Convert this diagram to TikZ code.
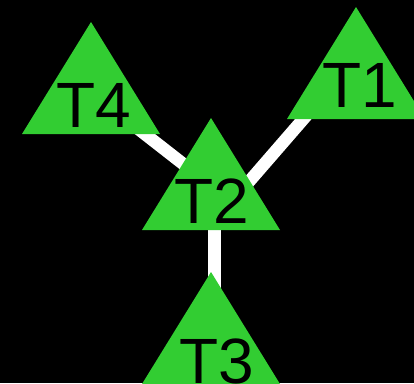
\documentclass[tikz,border=0pt]{standalone}
\usepackage{fontspec}
\setmainfont{Liberation Sans}
\definecolor{tgreen}{RGB}{50,205,50}
\begin{document}
\begin{tikzpicture}[x=1pt,y=-1pt,
  tri/.style={fill=tgreen},
  lbl/.style={anchor=base,inner sep=0pt,font=\fontsize{64}{64}\selectfont,text=black},
  edge/.style={draw=white,line width=12.5pt}]
\useasboundingbox (0,0) rectangle (414,383);
\fill[black] (0,0) rectangle (414,383);
\clip (0,0) rectangle (414,383);
% edge end points
\coordinate (e1) at (339.8,77);
\coordinate (e2a) at (214,222);
\coordinate (e4) at (100,99);
\coordinate (e2b) at (214,188);
\coordinate (e2c) at (214.7,200);
\coordinate (e3) at (214.7,300);
\draw[edge] (e2a) -- (e1);
\draw[edge] (e2b) -- (e4);
\draw[edge] (e2c) -- (e3);
% triangles
\fill[tri] (91,22) -- (160,134) -- (22,134) -- cycle;
\fill[tri] (356,7) -- (425,119) -- (287,119) -- cycle;
\fill[tri] (211,118) -- (280,230) -- (142,230) -- cycle;
\fill[tri] (211,272) -- (280,384) -- (142,384) -- cycle;
% labels
\node[lbl] (T4) at (94,127) {T4};
\node[lbl] (T1) at (360,107) {T1};
\node[lbl] (T2) at (212,223) {T2};
\node[lbl] (T3) at (217,383) {T3};
\end{tikzpicture}
\end{document}
